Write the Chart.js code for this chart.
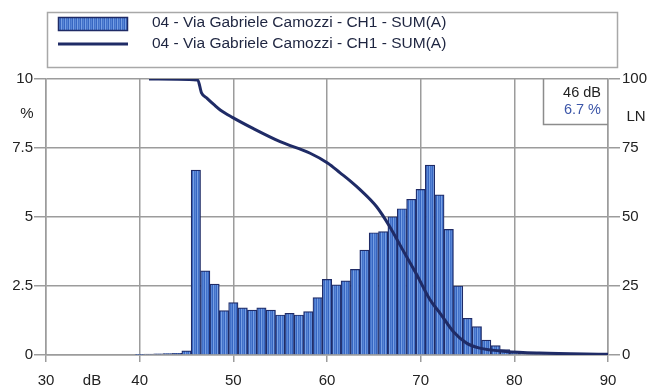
<!DOCTYPE html>
<html>
<head>
<meta charset="utf-8">
<script src="https://cdn.jsdelivr.net/npm/chart.js@4.4.1/dist/chart.umd.min.js"></script>
<style>
  html, body { margin: 0; padding: 0; background: #fff; }
  #wrap { width: 662px; height: 392px; }
</style>
</head>
<body>
<div id="wrap"><canvas id="lnChart" width="662" height="392"></canvas></div>
<script>
(() => {

// histogram bins (dB, 1 dB wide) and share of time (%)
var binDb = [40, 41, 42, 43, 44, 45, 46, 47, 48, 49, 50, 51, 52, 53, 54, 55, 56, 57, 58, 59,
	60, 61, 62, 63, 64, 65, 66, 67, 68, 69, 70, 71, 72, 73, 74, 75, 76, 77, 78, 79,
	80, 81, 82, 83, 84, 85, 86, 87, 88, 89];
var binPct = [0.02, 0.03, 0.04, 0.05, 0.06, 0.15, 6.7, 3.05, 2.57, 1.61, 1.9, 1.71, 1.63, 1.71, 1.63, 1.45, 1.51, 1.45, 1.57, 2.08,
	2.74, 2.54, 2.69, 3.1, 3.8, 4.43, 4.47, 5.01, 5.3, 5.64, 6.0, 6.88, 5.8, 4.55, 2.5, 1.33, 1.03, 0.54, 0.34, 0.2,
	0.1, 0.07, 0.05, 0.04, 0.03, 0.03, 0.02, 0.02, 0.01, 0.01];

// LN curve (dB, % exceeded)
var lnDb = [41, 44, 46.2, 46.6, 47.2, 48, 48.6, 49.9, 52.1, 55, 58.2, 60.1, 61.4, 62.5, 63.5, 65.3, 66.7, 68.1, 69.5, 71, 72.1, 73.5, 74.9, 76.3, 79.1, 82.7, 90];
var lnPct = [100, 99.9, 99.6, 95, 93, 90.5, 88.8, 86.1, 82.1, 77.3, 73.1, 69.5, 66, 63, 60, 53.7, 46.5, 38, 29.6, 20, 15, 8.4, 4.3, 2.5, 1.3, 0.7, 0.3];

// y axis tick labels
var pctTicks = ['0', '2.5', '5', '7.5', '10'];
var lnTicks = ['0', '25', '50', '75', '100'];

var seriesName = '04 - Via Gabriele Camozzi - CH1 - SUM(A)';
var peakDb = 46;
var peakPct = 6.7;

const navy = '#1f2b66';
const gridCol = '#9c9c9c';
const font = '"Liberation Sans", Arial, sans-serif';

// striped blue fill for the histogram bars
function barPattern(ctx) {
	const c = document.createElement('canvas');
	c.width = 4; c.height = 4;
	const g = c.getContext('2d');
	const cols = ['#3766c2', '#77a0e4', '#4372ca', '#5886d6'];
	for (let i = 0; i < 4; i++) {
		g.fillStyle = cols[i];
		g.fillRect(i, 0, 1, 4);
	}
	return ctx.createPattern(c, 'repeat');
}

const canvas = document.getElementById('lnChart');
const ctx = canvas.getContext('2d');
const fill = barPattern(ctx);

const extras = {
	id: 'extras',
	afterDraw(chart) {
		const c = chart.ctx;
		const a = chart.chartArea;
		c.save();

		// legend box
		c.strokeStyle = '#a8a8a8';
		c.lineWidth = 1.5;
		c.strokeRect(47.5, 12.5, 570, 55);
		c.fillStyle = fill;
		c.fillRect(58, 17, 70, 14);
		c.strokeStyle = navy;
		c.lineWidth = 1.5;
		c.strokeRect(58.5, 17.5, 69, 13);
		c.beginPath();
		c.moveTo(58, 44);
		c.lineTo(128, 44);
		c.lineWidth = 3;
		c.stroke();
		c.fillStyle = '#1e2540';
		c.font = '15.5px ' + font;
		c.textBaseline = 'middle';
		c.textAlign = 'left';
		c.fillText(seriesName, 152, 23);
		c.fillText(seriesName, 152, 44);

		// axis titles
		c.fillStyle = '#222';
		c.font = '15px ' + font;
		c.textAlign = 'center';
		c.fillText('%', 27, 114);
		c.fillText('dB', 92, 381);
		c.fillText('LN', 636, 117);

		// cursor readout box
		c.strokeStyle = '#8c8c8c';
		c.lineWidth = 1.5;
		c.beginPath();
		c.moveTo(543.5, a.top);
		c.lineTo(543.5, 124.5);
		c.lineTo(a.right, 124.5);
		c.stroke();
		c.textAlign = 'right';
		c.font = '14.5px ' + font;
		c.fillStyle = '#222';
		c.fillText(peakDb + ' dB', 601, 93);
		c.fillStyle = '#3b55a8';
		c.fillText(peakPct + ' %', 601, 110);
		c.restore();
	}
};

new Chart(canvas, {
	type: 'bar',
	data: {
		datasets: [
			{
				type: 'line',
				label: seriesName,
				data: lnDb.map((x, i) => ({ x: x, y: lnPct[i] })),
				yAxisID: 'y2',
				borderColor: navy,
				borderWidth: 3,
				pointRadius: 0,
				cubicInterpolationMode: 'monotone',
				fill: false,
				order: 0
			},
			{
				type: 'bar',
				label: seriesName,
				data: binDb.map((x, i) => ({ x: x, y: binPct[i] })),
				yAxisID: 'y',
				backgroundColor: fill,
				borderColor: navy,
				borderWidth: 1.2,
				barPercentage: 1,
				categoryPercentage: 1,
				order: 1
			}
		]
	},
	options: {
		responsive: false,
		animation: false,
		layout: { padding: { top: 79, left: 0, right: 0, bottom: 0 } },
		plugins: { legend: { display: false }, tooltip: { enabled: false } },
		scales: {
			x: {
				type: 'linear',
				min: 30,
				max: 90,
				offset: false,
				afterFit: s => { s.height = 37; },
				ticks: { stepSize: 10, color: '#222', font: { family: font, size: 15 }, padding: 10, maxRotation: 0 },
				grid: { offset: false, color: gridCol, lineWidth: 1.5, tickLength: 7 },
				border: { color: gridCol, width: 1.5 }
			},
			y: {
				position: 'left',
				min: 0,
				max: 10,
				afterFit: s => { s.width = 46; },
				afterBuildTicks: s => { s.ticks = [0, 2.5, 5, 7.5, 10].map(v => ({ value: v })); },
				ticks: {
					callback: (v, i) => pctTicks[i],
					color: '#222', font: { family: font, size: 15 }, padding: 1
				},
				grid: { color: gridCol, lineWidth: 1.5, tickLength: 12 },
				border: { color: gridCol, width: 1.5 }
			},
			y2: {
				position: 'right',
				min: 0,
				max: 100,
				afterFit: s => { s.width = 54; },
				afterBuildTicks: s => { s.ticks = [0, 25, 50, 75, 100].map(v => ({ value: v })); },
				ticks: {
					callback: (v, i) => lnTicks[i],
					color: '#222', font: { family: font, size: 15 }, padding: 2
				},
				grid: { drawOnChartArea: false, color: gridCol, lineWidth: 1.5, tickLength: 12 },
				border: { color: gridCol, width: 1.5 }
			}
		}
	},
	plugins: [extras]
});

})();
</script>
</body>
</html>
